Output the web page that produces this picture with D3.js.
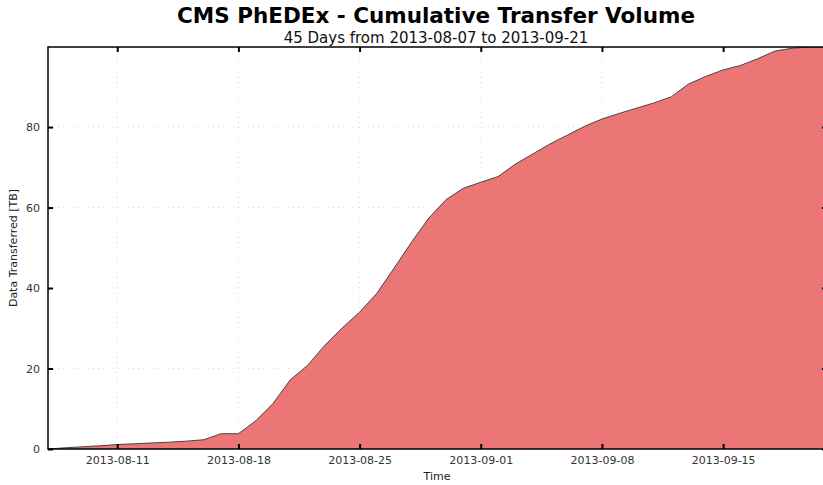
<!DOCTYPE html>
<html><head><meta charset="utf-8">
<script src="https://cdn.jsdelivr.net/npm/d3@7"></script>
<style>body{margin:0;background:#fff;overflow:hidden}svg{display:block}</style>
</head><body>
<svg id="c" width="823" height="485"></svg>
<script>
const title = "CMS PhEDEx - Cumulative Transfer Volume";
const subtitle = "45 Days from 2013-08-07 to 2013-09-21";
const xLabel = "Time";
const yLabel = "Data Transferred [TB]";
const startDate = "2013-08-07";
const endDate = "2013-09-21";
// cumulative TB, one value per day from 2013-08-07
const values = [0, 0.3, 0.55, 0.8, 1.1, 1.3, 1.5, 1.7, 1.95, 2.3,
  3.8, 3.8, 7.0, 11.3, 17.2, 20.8, 25.8, 30.1, 34.0, 38.7,
  45.0, 51.4, 57.4, 62.0, 64.8, 66.3, 67.7, 70.8, 73.3, 75.8,
  78.0, 80.2, 82.0, 83.4, 84.7, 86.0, 87.5, 90.7, 92.6, 94.2,
  95.3, 97.0, 98.9, 99.6, 99.9, 99.9];
const xTicks = ["2013-08-11","2013-08-18","2013-08-25","2013-09-01","2013-09-08","2013-09-15"];
const yTicks = [0, 20, 40, 60, 80];

const parse = d3.utcParse("%Y-%m-%d");
const t0 = parse(startDate);
const data = values.map((v,i)=>({date:d3.utcDay.offset(t0,i), v}));

const svg = d3.select("#c");
const L=48, R=827, T=47, B=449;
const x = d3.scaleUtc().domain([t0, parse(endDate)]).range([L,R]);
const y = d3.scaleLinear().domain([0, d3.max(values)]).range([B,T]);

svg.append("defs").append("clipPath").attr("id","clip")
  .append("rect").attr("x",L).attr("y",T).attr("width",R-L).attr("height",B-T);

const g = svg.append("g");
const area = d3.area().x(d=>x(d.date)).y0(y(0)).y1(d=>y(d.v));
const line = d3.line().x(d=>x(d.date)).y(d=>y(d.v));
g.append("path").datum(data).attr("d",area).attr("fill","#ec7575").attr("clip-path","url(#clip)");
g.append("path").datum(data).attr("d",line).attr("fill","none").attr("stroke","#444").attr("stroke-width",1).attr("clip-path","url(#clip)");

// grid
const xt = xTicks.map(parse);
g.append("g").selectAll("line").data(xt).join("line")
  .attr("x1",d=>x(d)).attr("x2",d=>x(d)).attr("y1",T).attr("y2",B)
  .attr("stroke","#999").attr("stroke-opacity",0.35).attr("stroke-width",1).attr("stroke-dasharray","1,4");
g.append("g").selectAll("line").data(yTicks.filter(d=>d>0)).join("line")
  .attr("y1",d=>y(d)).attr("y2",d=>y(d)).attr("x1",L).attr("x2",R)
  .attr("stroke","#999").attr("stroke-opacity",0.35).attr("stroke-width",1).attr("stroke-dasharray","1,4");

// axes
const font = "DejaVu Sans";
const xAxis = d3.axisBottom(x).tickValues(xt).tickFormat(d3.utcFormat("%Y-%m-%d")).tickSize(-5).tickPadding(7);
const xa = svg.append("g").attr("transform",`translate(0,${B})`).call(xAxis);
const yAxis = d3.axisLeft(y).tickValues(yTicks).tickFormat(d3.format("d")).tickSize(-5).tickPadding(8);
const ya = svg.append("g").attr("transform",`translate(${L},0)`).call(yAxis);
const xTop = svg.append("g").attr("transform",`translate(0,${T})`).call(d3.axisTop(x).tickValues(xt).tickSize(-5).tickFormat(""));
const yRight = svg.append("g").attr("transform",`translate(${R},0)`).call(d3.axisRight(y).tickValues(yTicks).tickSize(-5).tickFormat(""));
[xa,ya,xTop,yRight].forEach(a=>{
  a.select(".domain").remove();
  a.selectAll(".tick line").attr("stroke","#000").attr("stroke-width",2);
  a.selectAll("text").attr("font-family",font).attr("font-size",11).attr("fill","#333");
});
svg.append("rect").attr("x",L).attr("y",T).attr("width",R-L).attr("height",B-T)
  .attr("fill","none").attr("stroke","#000").attr("stroke-width",1.5);

// titles
svg.append("text").attr("x",436).attr("y",23).attr("text-anchor","middle")
  .attr("font-family",font).attr("font-weight","bold").attr("font-size",21.5).attr("fill","#000").text(title);
svg.append("text").attr("x",436).attr("y",43).attr("text-anchor","middle")
  .attr("font-family",font).attr("font-size",15).attr("fill","#111").text(subtitle);
svg.append("text").attr("x",437).attr("y",480).attr("text-anchor","middle")
  .attr("font-family",font).attr("font-size",11).attr("fill","#222").text(xLabel);
svg.append("text").attr("transform","translate(17,248) rotate(-90)").attr("text-anchor","middle")
  .attr("font-family",font).attr("font-size",11).attr("fill","#222").text(yLabel);
</script>
</body></html>
